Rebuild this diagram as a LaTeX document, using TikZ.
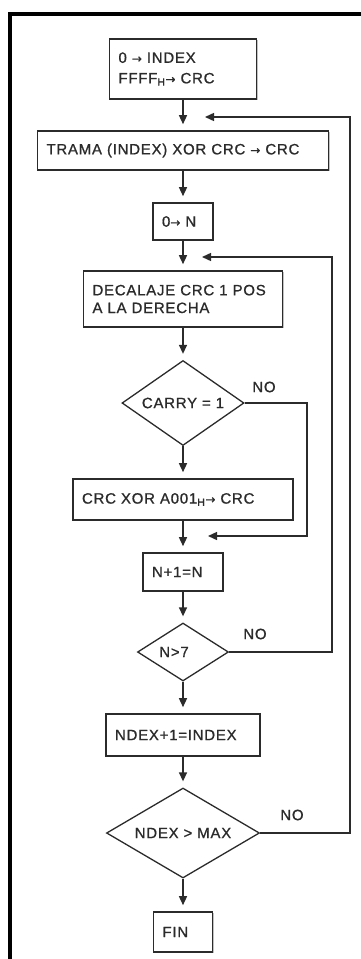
\documentclass[tikz,border=0pt]{standalone}
\usepackage{fontspec}
\setmainfont{Liberation Sans}[LetterSpace=5, FakeBold=0.9]
\newfontfamily\arrowfont{DejaVu Sans}[FakeBold=0.6]
\newcommand{\flowarrow}{{\arrowfont\fontsize{12}{12}\selectfont →}}
\usetikzlibrary{arrows.meta,shapes.geometric,shadows}
\definecolor{ink}{HTML}{2B2B2B}
\begin{document}
\begin{tikzpicture}[x=1pt,y=-1pt,
  every node/.style={font=\fontsize{15}{17.7}\selectfont, text=ink},
  proc/.style={rectangle, draw=ink, line width=1.6pt, fill=white,
    inner xsep=9pt, inner ysep=0pt, align=left,
    drop shadow={shadow xshift=1.2pt, shadow yshift=-1.2pt, fill=black!40, opacity=.6}},
  test/.style={diamond, draw=ink, line width=1.3pt, fill=white, inner sep=0pt, align=center},
  flow/.style={draw=ink, line width=1.4pt, -{Triangle[length=9pt,width=8pt]}},
  down/.style={flow, shorten >=6pt},
  tag/.style={inner sep=0pt}
]
\useasboundingbox (0,0) rectangle (361,959);

% page frame (left and top rules only)
\draw[black, line width=4pt] (10.3,959) -- (10.3,13.7) -- (361,13.7);

% process boxes and decisions
\node[proc, text width=129pt, minimum height=60pt, font=\fontsize{15}{20.5}\selectfont] (b1) at (183,69)
  {0 \flowarrow\ INDEX\\FFFF\textsubscript{H}\flowarrow\ CRC};
\node[proc, text width=273pt, minimum height=39pt] (b2) at (183,150.5)
  {\mbox{TRAMA (INDEX) XOR CRC \flowarrow\ CRC}};
\node[proc, text width=42pt, minimum height=37pt] (b3) at (183,221.5) {\mbox{0\flowarrow\ N}};
\node[proc, text width=181pt, minimum height=56pt] (b4) at (183,299)
  {\mbox{DECALAJE CRC 1 POS}\\A LA DERECHA};
\node[test, minimum width=122pt, minimum height=85pt, aspect=1.43] (d1) at (183,403) {CARRY = 1};
\node[proc, text width=202pt, minimum height=41pt] (b5) at (183,499.5)
  {\mbox{CRC XOR A001\textsubscript{H}\flowarrow\ CRC}};
\node[proc, text width=62pt, minimum height=38pt] (b6) at (183,572) {\mbox{N+1=N}};
\node[test, minimum width=91pt, minimum height=58pt, aspect=1.57] (d2) at (183,652) {N>7\hspace*{18pt}};
\node[proc, text width=136pt, minimum height=42pt] (b7) at (183,735) {\mbox{NDEX+1=INDEX}};
\node[test, minimum width=153pt, minimum height=90pt, aspect=1.7] (d3) at (183,833) {NDEX > MAX};
\node[proc, text width=41pt, minimum height=40pt] (b8) at (183,932) {FIN};

% "NO" branch labels
\node[tag] (no1) at (264,387) {NO};
\node[tag] (no2) at (255,634) {NO};
\node[tag] (no3) at (292,815) {NO};

% loop-back corners and free arrow ends
\coordinate (k1) at (350,117);
\coordinate (t1) at (205,117);
\coordinate (k2) at (332,257);
\coordinate (t2) at (202,257);
\coordinate (k3) at (307,536);
\coordinate (t3) at (208,536);

% main downward flow
\draw[down] (b1) -- (b2);
\draw[down] (b2) -- (b3);
\draw[down] (b3) -- (b4);
\draw[down] (b4) -- (d1);
\draw[down] (d1) -- (b5);
\draw[down] (b5) -- (b6);
\draw[down] (b6) -- (d2);
\draw[down] (d2) -- (b7);
\draw[down] (b7) -- (d3);
\draw[down] (d3) -- (b8);

% NO branches
\draw[flow] (d1.east) -| (k3) -- (t3);
\draw[flow] (d2.east) -| (k2) -- (t2);
\draw[flow] (d3.east) -| (k1) -- (t1);
\end{tikzpicture}
\end{document}
